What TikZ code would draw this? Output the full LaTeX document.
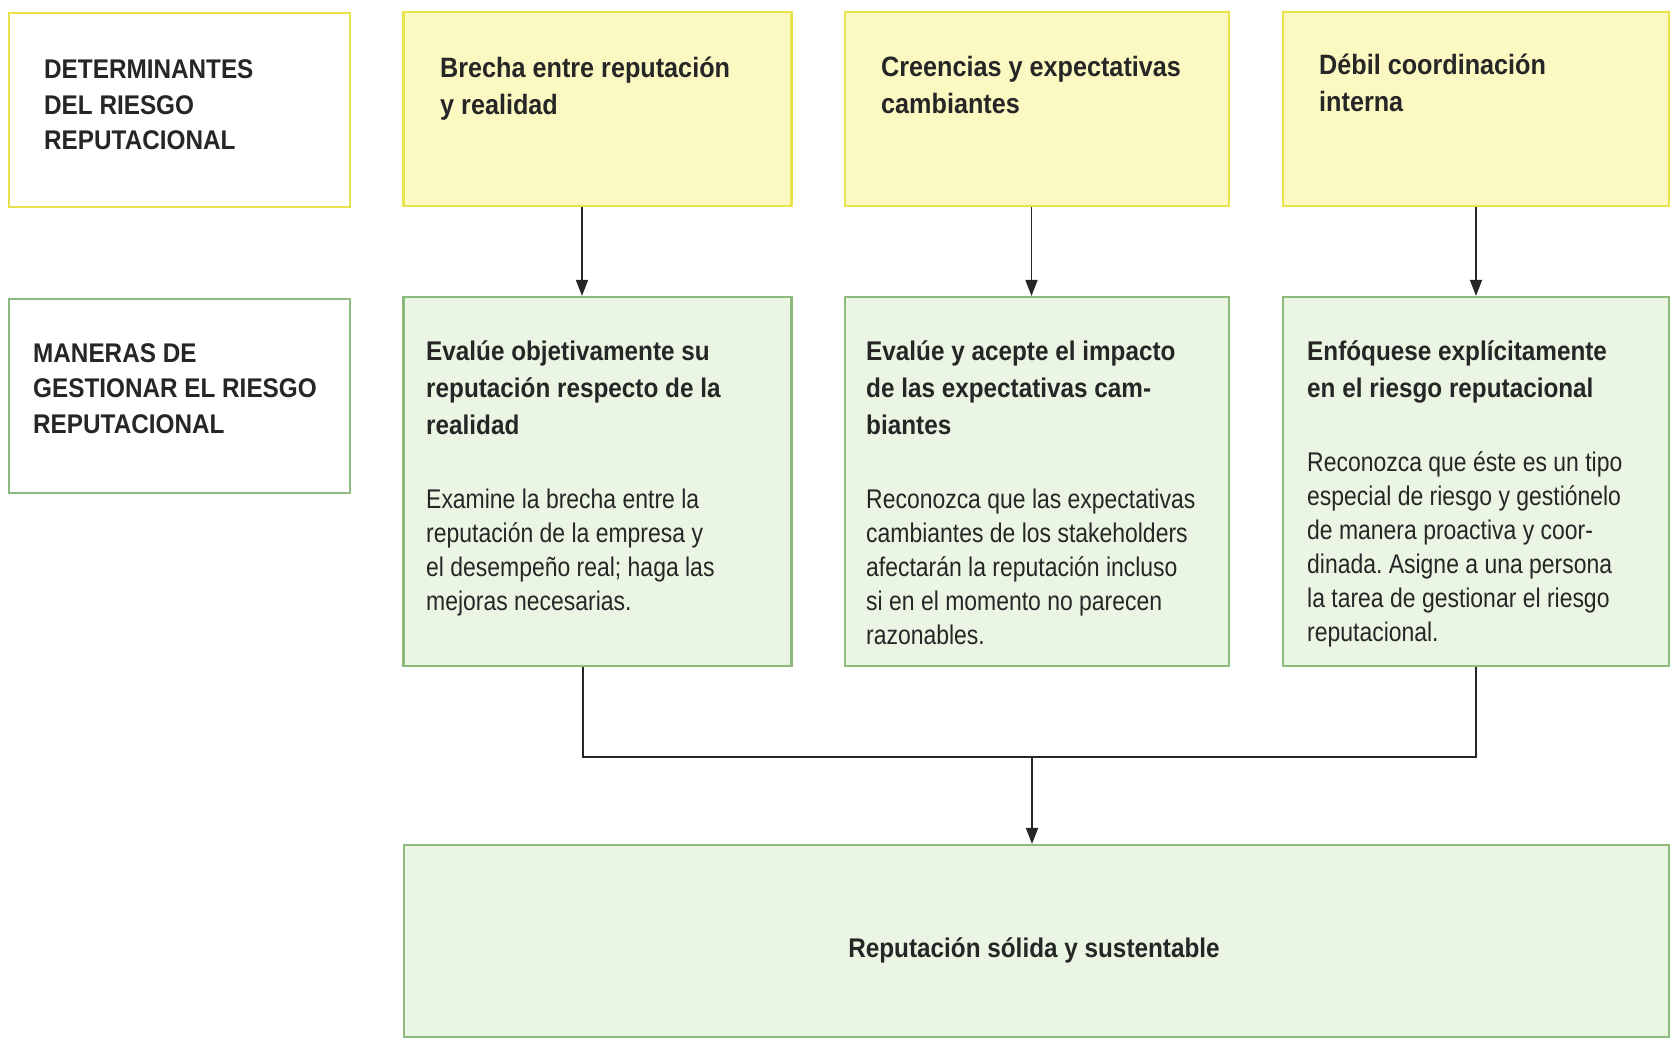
\documentclass[tikz,border=0pt]{standalone}
\usepackage{fontspec}
\setmainfont{Liberation Sans}[FakeStretch=0.85,BoldFeatures={FakeStretch=0.9}]
\usetikzlibrary{arrows.meta}
\definecolor{yfill}{HTML}{FBF8C2}
\definecolor{ydraw}{HTML}{E8E24C}
\definecolor{gfill}{HTML}{EAF6E3}
\definecolor{gdraw}{HTML}{8EBA7E}
\definecolor{ink}{HTML}{262626}
\newcommand\tl[1]{\begin{tabular}[t]{@{}l@{}}#1\end{tabular}}
\frenchspacing
\begin{document}
\begin{tikzpicture}[x=1pt,y=-1pt,
  ybox/.style={draw=ydraw,line width=2.5pt,fill=yfill,inner sep=0pt},
  wybox/.style={draw=ydraw,line width=2.5pt,fill=white,inner sep=0pt},
  gbox/.style={draw=gdraw,line width=2.2pt,fill=gfill,inner sep=0pt},
  wgbox/.style={draw=gdraw,line width=2.2pt,fill=white,inner sep=0pt},
  head/.style={anchor=base west,inner sep=0pt,text=ink,
    font=\fontsize{27}{35.5}\selectfont\bfseries},
  ytitle/.style={anchor=base west,inner sep=0pt,text=ink,
    font=\fontsize{28}{37}\selectfont\bfseries},
  title/.style={anchor=base west,inner sep=0pt,text=ink,
    font=\fontsize{27}{37}\selectfont\bfseries},
  body/.style={anchor=base west,inner sep=0pt,text=ink,
    font=\fontsize{27}{34}\selectfont},
  conn/.style={draw=ink,line width=1.7pt},
  arr/.style={conn,-{Triangle[length=16pt,width=12pt]}}
]
\useasboundingbox (0,0) rectangle (1672,1040);

% row 1 boxes
\node[wybox,minimum width=341,minimum height=194] (L1) at (179.5,110) {};
\node[ybox,minimum width=388,minimum height=194] (Y1) at (597.5,109) {};
\node[ybox,minimum width=384,minimum height=194] (Y2) at (1037,109) {};
\node[ybox,minimum width=386,minimum height=194] (Y3) at (1476,109) {};

% row 2 boxes
\node[wgbox,minimum width=341,minimum height=194] (L2) at (179.5,396) {};
\node[gbox,minimum width=388,minimum height=369] (G1) at (597.5,481.5) {};
\node[gbox,minimum width=384,minimum height=369] (G2) at (1037,481.5) {};
\node[gbox,minimum width=386,minimum height=369] (G3) at (1476,481.5) {};

% bottom box
\node[gbox,minimum width=1265,minimum height=192] (B) at (1036.5,941) {};

% texts
\node[head] (tL1) at (44,79) {\tl{DETERMINANTES\\DEL RIESGO\\REPUTACIONAL}};
\node[head] (tL2) at (33,362) {\tl{MANERAS DE\\GESTIONAR EL RIESGO\\REPUTACIONAL}};

\node[ytitle] (tY1) at (440,78) {\tl{Brecha entre reputación\\y realidad}};
\node[ytitle] (tY2) at (881,77) {\tl{Creencias y expectativas\\cambiantes}};
\node[ytitle] (tY3) at (1319,75) {\tl{Débil coordinación\\interna}};

\node[title] (tG1) at (426,360) {\tl{Evalúe objetivamente su\\reputación respecto de la\\realidad}};
\node[body] (bG1) at (426,508) {\tl{Examine la brecha entre la\\reputación de la empresa y\\el desempeño real; haga las\\mejoras necesarias.}};

\node[title] (tG2) at (866,360) {\tl{Evalúe y acepte el impacto\\de las expectativas cam-\\biantes}};
\node[body] (bG2) at (866,508) {\tl{Reconozca que las expectativas\\cambiantes de los stakeholders\\afectarán la reputación incluso\\si en el momento no parecen\\razonables.}};

\node[title] (tG3) at (1307,360) {\tl{Enfóquese explícitamente\\en el riesgo reputacional}};
\node[body] (bG3) at (1307,471) {\tl{Reconozca que éste es un tipo\\especial de riesgo y gestiónelo\\de manera proactiva y coor-\\dinada. Asigne a una persona\\la tarea de gestionar el riesgo\\reputacional.}};

\node[title,anchor=base] (tB) at (1034,957) {Reputación sólida y sustentable};

% connectors
\draw[arr] ([xshift=-15.5pt]Y1.south) -- ([xshift=-15.5pt]G1.north);
\draw[arr] ([xshift=-5.5pt]Y2.south) -- ([xshift=-5.5pt]G2.north);
\draw[arr] (Y3.south) -- (G3.north);

\coordinate (mL) at (583,757);
\coordinate (mR) at (1476,757);
\coordinate (mC) at (1032,757);
\draw[conn] ([xshift=-14.5pt]G1.south) -- (mL) -- (mR) -- (G3.south);
\draw[arr] (mC) -- (mC |- B.north);
\end{tikzpicture}
\end{document}
